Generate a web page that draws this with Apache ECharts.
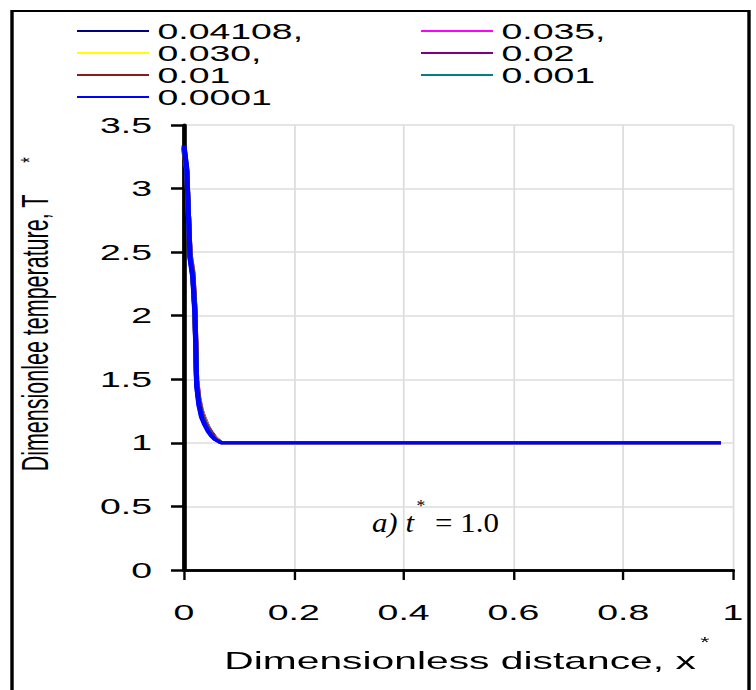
<!DOCTYPE html>
<html>
<head>
<meta charset="utf-8">
<script src="https://cdn.jsdelivr.net/npm/echarts@6/dist/echarts.min.js"></script>
<style>
  html, body { margin: 0; padding: 0; background: #fff; overflow: hidden; }
  #chart { height: 690px; transform-origin: 0 0; }
</style>
</head>
<body>
<div id="chart"></div>
<script>
// Horizontal stretch of the whole figure (wide-looking text and strokes)
const S = 1.7;
const W = 756 / S;
const px = X => X / S;

// Dimensionless distance x*
const xDist = [0, 0.005, 0.011, 0.016, 0.02, 0.023, 0.027, 0.032, 0.038, 0.044, 0.05, 0.057, 0.068, 0.2, 0.4, 0.6, 0.8, 0.978];

// Dimensionless temperature T* for each case
const t04108 = [3.30, 3.12, 2.49, 2.35, 2.05, 1.50, 1.35, 1.25, 1.18, 1.12, 1.08, 1.04, 1.0, 1, 1, 1, 1, 1];
const t035   = [3.31, 3.13, 2.48, 2.34, 2.04, 1.49, 1.34, 1.24, 1.17, 1.12, 1.07, 1.04, 1.0, 1, 1, 1, 1, 1];
const t030   = [3.31, 3.13, 2.48, 2.34, 2.04, 1.49, 1.34, 1.24, 1.17, 1.11, 1.07, 1.035, 1.0, 1, 1, 1, 1, 1];
const t02    = [3.32, 3.14, 2.47, 2.33, 2.03, 1.48, 1.33, 1.23, 1.16, 1.11, 1.07, 1.03, 1.0, 1, 1, 1, 1, 1];
const t01    = [3.32, 3.14, 2.47, 2.33, 2.03, 1.48, 1.33, 1.23, 1.16, 1.11, 1.07, 1.03, 1.0, 1, 1, 1, 1, 1];
const t001   = [3.33, 3.15, 2.46, 2.31, 2.01, 1.46, 1.31, 1.21, 1.15, 1.10, 1.06, 1.03, 1.0, 1, 1, 1, 1, 1];
const t0001  = [3.34, 3.16, 2.45, 2.30, 2.00, 1.45, 1.30, 1.20, 1.14, 1.09, 1.055, 1.025, 1.0, 1, 1, 1, 1, 1];

const seriesNames  = ['0.04108,', '0.035,', '0.030,', '0.02', '0.01', '0.001', '0.0001'];
const seriesValues = [t04108, t035, t030, t02, t01, t001, t0001];
const seriesColors = ['#000080', '#ff00ff', '#ffff00', '#800080', '#8b1a1a', '#008080', '#0000ff'];

const legendLeftCol  = ['0.04108,', '0.030,', '0.01', '0.0001'];
const legendRightCol = ['0.035,', '0.02', '0.001'];

const xTicks = { min: 0, max: 1, interval: 0.2 };
const yTicks = { min: 0, max: 3.5, interval: 0.5 };

const FONT = '"Liberation Sans", Arial, sans-serif';
const SERIF = '"Liberation Serif", "Times New Roman", serif';

const el = document.getElementById('chart');
el.style.width = W + 'px';
el.style.transform = 'scaleX(' + S + ')';

const chart = echarts.init(el, null, { renderer: 'svg', width: W, height: 690 });

const legendCommon = {
  orient: 'vertical',
  top: 20,
  padding: 0,
  icon: 'rect',
  itemWidth: px(72),
  itemHeight: 2,
  itemGap: 0,
  selectedMode: false,
  textStyle: { fontFamily: FONT, fontSize: 22, color: '#000', lineHeight: 22 }
};

// plain frame axes on the top and right edges of the plot
const frameAxis = {
  type: 'value',
  axisLine: { show: true, lineStyle: { color: '#000', width: 2.5 } },
  axisTick: { show: false },
  axisLabel: { show: false },
  splitLine: { show: false },
  z: 5
};

chart.setOption({
  animation: false,
  backgroundColor: '#fff',
  legend: [
    Object.assign({ left: px(77), data: legendLeftCol }, legendCommon),
    Object.assign({ left: px(421), data: legendRightCol }, legendCommon)
  ],
  grid: {
    left: px(184),
    right: W - px(733),
    top: 125,
    bottom: 120,
    show: false
  },
  xAxis: [{
    type: 'value',
    min: xTicks.min, max: xTicks.max, interval: xTicks.interval,
    axisLine: { lineStyle: { color: '#000', width: 2.5 } },
    axisTick: { show: true, inside: false, length: 10, lineStyle: { color: '#000', width: 1.4 } },
    axisLabel: { fontFamily: FONT, fontSize: 22, color: '#000', margin: 31 },
    splitLine: { show: true, lineStyle: { color: '#dcdcdc', width: 1 } },
    z: 4
  }, Object.assign({ position: 'top', min: xTicks.min, max: xTicks.max }, frameAxis)],
  yAxis: [{
    type: 'value',
    min: yTicks.min, max: yTicks.max, interval: yTicks.interval,
    axisLine: { lineStyle: { color: '#000', width: 2.5 } },
    axisTick: { show: true, inside: false, length: px(13), lineStyle: { color: '#000', width: 2.5 } },
    axisLabel: { fontFamily: FONT, fontSize: 22, color: '#000', margin: px(32) },
    splitLine: { show: true, lineStyle: { color: '#dcdcdc', width: 1.5 } },
    z: 4
  }, Object.assign({ position: 'right', min: yTicks.min, max: yTicks.max }, frameAxis)],
  series: seriesNames.map((name, i) => ({
    name: name,
    type: 'line',
    symbol: 'none',
    smooth: false,
    color: seriesColors[i],
    lineStyle: { width: 3, color: seriesColors[i] },
    data: xDist.map((x, k) => [x, seriesValues[i][k]]),
    z: 2 + i
  })),
  graphic: [
    // outer frame
    { type: 'rect', silent: true, z: 10,
      shape: { x: px(12), y: 11, width: px(749) - px(12), height: 700 },
      style: { fill: 'none', stroke: '#000', lineWidth: 2 } },
    // white label box over the grid lines
    { type: 'rect', silent: true, z: 1,
      shape: { x: px(298), y: 487, width: px(535) - px(298), height: 60 },
      style: { fill: '#fff' } },
    // y-axis title
    { type: 'text', silent: true, z: 10, x: px(35), y: 333, rotation: Math.PI / 2,
      style: { text: 'Dimensionlee temperature, T', fill: '#000',
               font: '21.5px ' + FONT, textAlign: 'center', textVerticalAlign: 'middle' } },
    { type: 'text', silent: true, z: 10, x: px(29), y: 160, rotation: Math.PI / 2,
      style: { text: '*', fill: '#000', font: '14px ' + FONT, textAlign: 'center', textVerticalAlign: 'middle' } },
    // x-axis title
    { type: 'text', silent: true, z: 10, x: px(460), y: 661,
      style: { text: 'Dimensionless distance, x', fill: '#000',
               font: '24px ' + FONT, textAlign: 'center', textVerticalAlign: 'middle' } },
    { type: 'text', silent: true, z: 10, x: px(705), y: 642,
      style: { text: '*', fill: '#000', font: '14px ' + FONT, textAlign: 'center', textVerticalAlign: 'middle' } },
    // case label
    { type: 'text', silent: true, z: 10, x: px(414), y: 523, scaleX: 0.65,
      style: { text: 'a) t', fill: '#000', font: 'italic 28px ' + SERIF, textAlign: 'right', textVerticalAlign: 'middle' } },
    { type: 'text', silent: true, z: 10, x: px(421), y: 506, scaleX: 0.65,
      style: { text: '*', fill: '#000', font: '16px ' + SERIF, textAlign: 'center', textVerticalAlign: 'middle' } },
    { type: 'text', silent: true, z: 10, x: px(435), y: 523, scaleX: 0.65,
      style: { text: '= 1.0', fill: '#000', font: '28px ' + SERIF, textAlign: 'left', textVerticalAlign: 'middle' } }
  ]
});
</script>
</body>
</html>
